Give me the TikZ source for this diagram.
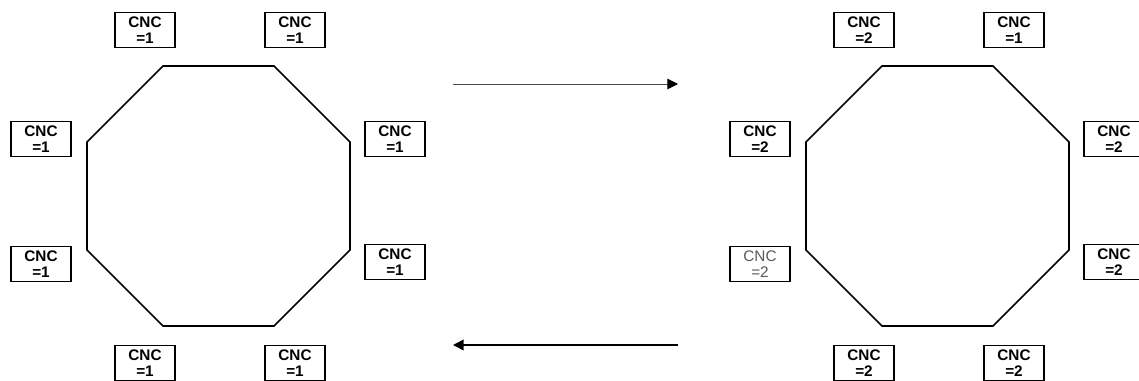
\documentclass[tikz,border=0pt]{standalone}
\usepackage{fontspec}
\setmainfont{Liberation Sans}
\usepackage{tikz}
\usetikzlibrary{arrows.meta}

\begin{document}
\begin{tikzpicture}[x=0.75pt, y=-0.75pt, >={Triangle[length=8pt, width=8pt]},
  cnc/.style={draw, line width=1.1pt, minimum width=45pt, minimum height=26pt,
              inner sep=0pt, align=center, font=\fontsize{11.5}{12}\selectfont\bfseries},
  cncdim/.style={cnc, font=\fontsize{11.5}{12}\selectfont, text=black!65},
  ring/.style={line width=1.2pt, line join=miter}]
  \useasboundingbox (0,0) rectangle (1139,380);

  % left ring, all machines at 1
  \draw[ring] (163,66) -- (274,66) -- (350,142) -- (350,250) -- (274,326)
    -- (163,326) -- (87,250) -- (87,142) -- cycle;
  \node[cnc] (la) at (145,30) {CNC\\=1};
  \node[cnc] (lb) at (295,30) {CNC\\=1};
  \node[cnc] (lc) at (395,139) {CNC\\=1};
  \node[cnc] (ld) at (395,262) {CNC\\=1};
  \node[cnc] (le) at (295,363) {CNC\\=1};
  \node[cnc] (lf) at (145,363) {CNC\\=1};
  \node[cnc] (lg) at (41,264) {CNC\\=1};
  \node[cnc] (lh) at (41,139) {CNC\\=1};

  % right ring, after the switch
  \draw[ring] (882,66) -- (993,66) -- (1069,142) -- (1069,250) -- (993,326)
    -- (882,326) -- (806,250) -- (806,142) -- cycle;
  \node[cnc] (ra) at (864,30) {CNC\\=2};
  \node[cnc] (rb) at (1014,30) {CNC\\=1};
  \node[cnc] (rc) at (1114,139) {CNC\\=2};
  \node[cnc] (rd) at (1114,262) {CNC\\=2};
  \node[cnc] (re) at (1014,363) {CNC\\=2};
  \node[cnc] (rf) at (864,363) {CNC\\=2};
  \node[cncdim] (rg) at (760,264) {CNC\\=2};
  \node[cnc] (rh) at (760,139) {CNC\\=2};

  % transitions
  \coordinate (fwdA) at (453,84);
  \coordinate (fwdB) at (678,84);
  \coordinate (backA) at (678,345);
  \coordinate (backB) at (453,345);
  \draw[-{Triangle[length=8pt, width=8pt, color=black]}, line width=0.7pt, black!70]
    (fwdA) -- (fwdB);
  \draw[->, line width=1.2pt] (backA) -- (backB);
\end{tikzpicture}
\end{document}
